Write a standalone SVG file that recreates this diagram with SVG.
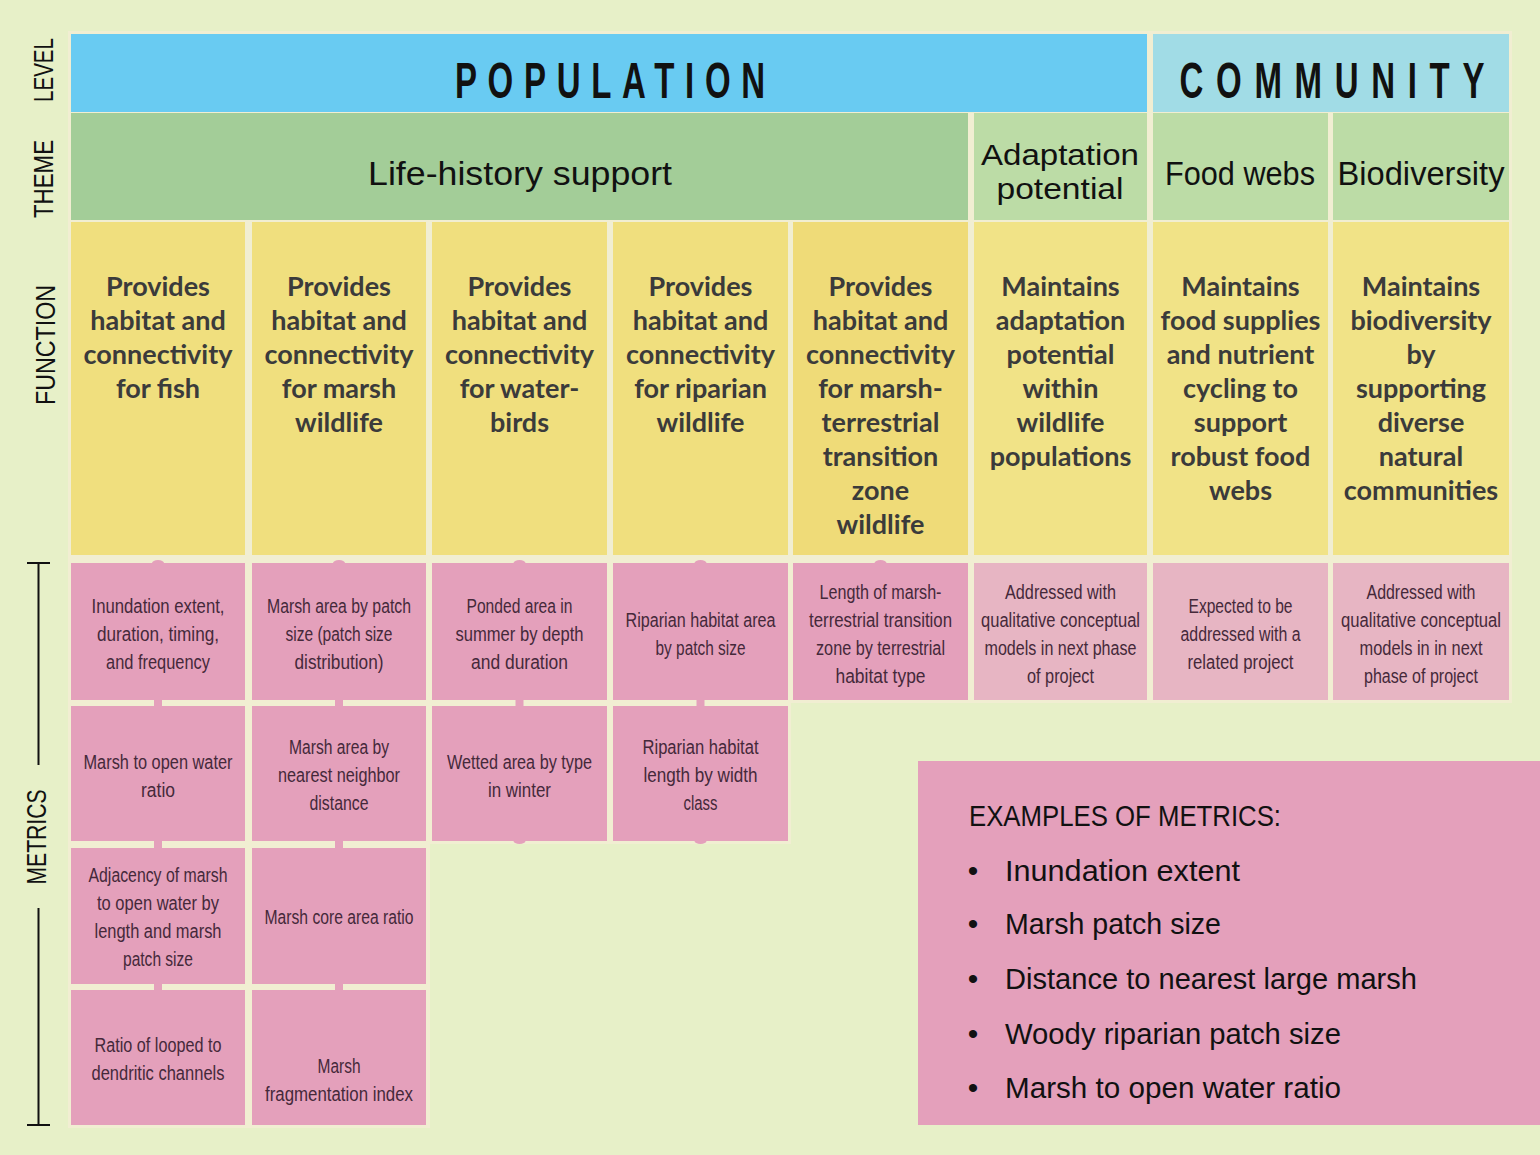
<svg xmlns="http://www.w3.org/2000/svg" width="1540" height="1155" viewBox="0 0 1540 1155">
<style>
.bg{fill:#e7f0c8}
.cream{fill:#f1eed2}
.lvl{fill:#69cbf2}
.lvl2{fill:#a1dce6}
.th1{fill:#a3cd98}
.th2{fill:#bcdca6}
.fn{fill:#f0df7e}
.fn5{fill:#efdb78}
.fn2{fill:#f1e387}
.mt{fill:#e4a0bb}
.mt2{fill:#e7b5c3}
.side{font-family:"Liberation Sans",Arial,sans-serif;font-size:27px;fill:#111;text-anchor:middle}
.big{font-family:"Liberation Sans",Arial,sans-serif;font-weight:bold;font-size:50px;fill:#111;text-anchor:middle}
.theme{font-family:"Liberation Sans",Arial,sans-serif;font-size:33px;fill:#111;text-anchor:middle}
.theme2{font-family:"Liberation Sans",Arial,sans-serif;font-size:29px;fill:#111;text-anchor:middle}
.ft{font-family:Lato,"Open Sans",sans-serif;font-weight:bold;font-size:27px;fill:#3b3b3b;text-anchor:middle}
.mx{font-family:"Liberation Sans",Arial,sans-serif;font-size:20px;fill:#45293a;text-anchor:middle}
.ex{font-family:"Liberation Sans",Arial,sans-serif;font-size:30px;fill:#111}
.tab{fill:#e4a0bb}
</style>
<rect class="bg" x="0" y="0" width="1540" height="1155"/>

<!-- cream underlay -->
<rect class="cream" x="68" y="31" width="1444" height="672"/>
<rect class="cream" x="68" y="700" width="723" height="144"/>
<rect class="cream" x="68" y="841" width="362" height="287"/>

<!-- side labels -->
<g id="side-labels">
<text class="side" transform="translate(53,70) rotate(-90)" textLength="64" lengthAdjust="spacingAndGlyphs">LEVEL</text>
<text class="side" transform="translate(53,179) rotate(-90)" textLength="78" lengthAdjust="spacingAndGlyphs">THEME</text>
<text class="side" transform="translate(55,345) rotate(-90)" textLength="120" lengthAdjust="spacingAndGlyphs">FUNCTION</text>
<text class="side" transform="translate(46,837) rotate(-90)" textLength="95" lengthAdjust="spacingAndGlyphs">METRICS</text>
<path d="M27,563 H50 M38.5,563 V765 M38.5,908 V1125 M27,1125 H50" stroke="#111" stroke-width="2" fill="none"/>
</g>

<!-- level -->
<g id="level-population">
<rect class="lvl" x="71" y="34" width="1076" height="78"/>
<text class="big" transform="translate(610,98) scale(0.66,1)" textLength="470" lengthAdjust="spacing">POPULATION</text>
</g>
<g id="level-community">
<rect class="lvl2" x="1153" y="34" width="356" height="78"/>
<text class="big" transform="translate(1332,98) scale(0.66,1)" textLength="462" lengthAdjust="spacing">COMMUNITY</text>
</g>

<!-- themes -->
<g id="theme-life-history">
<rect class="th1" x="71" y="113" width="897" height="107"/>
<text class="theme" x="520" y="185" textLength="304" lengthAdjust="spacingAndGlyphs">Life-history support</text>
</g>
<g id="theme-adaptation">
<rect class="th2" x="974" y="113" width="173" height="107"/>
<text class="theme2" x="1060" y="165" textLength="158" lengthAdjust="spacingAndGlyphs">Adaptation</text>
<text class="theme2" x="1060" y="199" textLength="127" lengthAdjust="spacingAndGlyphs">potential</text>
</g>
<g id="theme-food-webs">
<rect class="th2" x="1153" y="113" width="175" height="107"/>
<text class="theme" x="1240" y="185" textLength="150" lengthAdjust="spacingAndGlyphs">Food webs</text>
</g>
<g id="theme-biodiversity">
<rect class="th2" x="1333" y="113" width="176" height="107"/>
<text class="theme" x="1421" y="185" textLength="167" lengthAdjust="spacingAndGlyphs">Biodiversity</text>
</g>

<!-- functions -->
<g id="fn-fish">
<rect class="fn" x="71" y="222" width="174" height="333"/>
<text class="ft" x="158" y="296">Provides</text>
<text class="ft" x="158" y="330">habitat and</text>
<text class="ft" x="158" y="364">connectivity</text>
<text class="ft" x="158" y="398">for fish</text>
</g>
<g id="fn-marsh">
<rect class="fn" x="252" y="222" width="174" height="333"/>
<text class="ft" x="339" y="296">Provides</text>
<text class="ft" x="339" y="330">habitat and</text>
<text class="ft" x="339" y="364">connectivity</text>
<text class="ft" x="339" y="398">for marsh</text>
<text class="ft" x="339" y="432">wildlife</text>
</g>
<g id="fn-waterbirds">
<rect class="fn" x="432" y="222" width="175" height="333"/>
<text class="ft" x="519.5" y="296">Provides</text>
<text class="ft" x="519.5" y="330">habitat and</text>
<text class="ft" x="519.5" y="364">connectivity</text>
<text class="ft" x="519.5" y="398">for water-</text>
<text class="ft" x="519.5" y="432">birds</text>
</g>
<g id="fn-riparian">
<rect class="fn" x="613" y="222" width="175" height="333"/>
<text class="ft" x="700.5" y="296">Provides</text>
<text class="ft" x="700.5" y="330">habitat and</text>
<text class="ft" x="700.5" y="364">connectivity</text>
<text class="ft" x="700.5" y="398">for riparian</text>
<text class="ft" x="700.5" y="432">wildlife</text>
</g>
<g id="fn-transition">
<rect class="fn5" x="793" y="222" width="175" height="333"/>
<text class="ft" x="880.5" y="296">Provides</text>
<text class="ft" x="880.5" y="330">habitat and</text>
<text class="ft" x="880.5" y="364">connectivity</text>
<text class="ft" x="880.5" y="398">for marsh-</text>
<text class="ft" x="880.5" y="432">terrestrial</text>
<text class="ft" x="880.5" y="466">transition</text>
<text class="ft" x="880.5" y="500">zone</text>
<text class="ft" x="880.5" y="534">wildlife</text>
</g>
<g id="fn-adaptation">
<rect class="fn2" x="974" y="222" width="173" height="333"/>
<text class="ft" x="1060.5" y="296">Maintains</text>
<text class="ft" x="1060.5" y="330">adaptation</text>
<text class="ft" x="1060.5" y="364">potential</text>
<text class="ft" x="1060.5" y="398">within</text>
<text class="ft" x="1060.5" y="432">wildlife</text>
<text class="ft" x="1060.5" y="466">populations</text>
</g>
<g id="fn-foodwebs">
<rect class="fn2" x="1153" y="222" width="175" height="333"/>
<text class="ft" x="1240.5" y="296">Maintains</text>
<text class="ft" x="1240.5" y="330">food supplies</text>
<text class="ft" x="1240.5" y="364">and nutrient</text>
<text class="ft" x="1240.5" y="398">cycling to</text>
<text class="ft" x="1240.5" y="432">support</text>
<text class="ft" x="1240.5" y="466">robust food</text>
<text class="ft" x="1240.5" y="500">webs</text>
</g>
<g id="fn-biodiversity">
<rect class="fn2" x="1333" y="222" width="176" height="333"/>
<text class="ft" x="1421" y="296">Maintains</text>
<text class="ft" x="1421" y="330">biodiversity</text>
<text class="ft" x="1421" y="364">by</text>
<text class="ft" x="1421" y="398">supporting</text>
<text class="ft" x="1421" y="432">diverse</text>
<text class="ft" x="1421" y="466">natural</text>
<text class="ft" x="1421" y="500">communities</text>
</g>

<!-- connectors (tabs between metric boxes) -->
<g id="connectors">
<ellipse class="tab" cx="158" cy="563" rx="6" ry="3"/>
<ellipse class="tab" cx="339" cy="563" rx="6" ry="3"/>
<ellipse class="tab" cx="519.5" cy="563" rx="6" ry="3"/>
<ellipse class="tab" cx="700.5" cy="563" rx="6" ry="3"/>
<ellipse class="tab" cx="880.5" cy="563" rx="6" ry="3"/>
<rect class="tab" x="154" y="698" width="8" height="10"/>
<rect class="tab" x="335" y="698" width="8" height="10"/>
<rect class="tab" x="515.5" y="698" width="8" height="10"/>
<rect class="tab" x="696.5" y="698" width="8" height="10"/>
<rect class="tab" x="154" y="839" width="8" height="11"/>
<rect class="tab" x="335" y="839" width="8" height="11"/>
<rect class="tab" x="154" y="982" width="8" height="10"/>
<rect class="tab" x="335" y="982" width="8" height="10"/>
<ellipse class="tab" cx="519.5" cy="841" rx="6" ry="3"/>
<ellipse class="tab" cx="700.5" cy="841" rx="6" ry="3"/>
</g>

<!-- metrics row 1 -->
<g id="m-inundation">
<rect class="mt" x="71" y="563" width="174" height="137"/>
<text class="mx" x="158" y="613" textLength="133" lengthAdjust="spacingAndGlyphs">Inundation extent,</text>
<text class="mx" x="158" y="641" textLength="122" lengthAdjust="spacingAndGlyphs">duration, timing,</text>
<text class="mx" x="158" y="669" textLength="104" lengthAdjust="spacingAndGlyphs">and frequency</text>
</g>
<g id="m-marsh-patch">
<rect class="mt" x="252" y="563" width="174" height="137"/>
<text class="mx" x="339" y="613" textLength="144" lengthAdjust="spacingAndGlyphs">Marsh area by patch</text>
<text class="mx" x="339" y="641" textLength="107" lengthAdjust="spacingAndGlyphs">size (patch size</text>
<text class="mx" x="339" y="669" textLength="89" lengthAdjust="spacingAndGlyphs">distribution)</text>
</g>
<g id="m-ponded">
<rect class="mt" x="432" y="563" width="175" height="137"/>
<text class="mx" x="519.5" y="613" textLength="106" lengthAdjust="spacingAndGlyphs">Ponded area in</text>
<text class="mx" x="519.5" y="641" textLength="128" lengthAdjust="spacingAndGlyphs">summer by depth</text>
<text class="mx" x="519.5" y="669" textLength="97" lengthAdjust="spacingAndGlyphs">and duration</text>
</g>
<g id="m-riparian-area">
<rect class="mt" x="613" y="563" width="175" height="137"/>
<text class="mx" x="700.5" y="627" textLength="150" lengthAdjust="spacingAndGlyphs">Riparian habitat area</text>
<text class="mx" x="700.5" y="655" textLength="90" lengthAdjust="spacingAndGlyphs">by patch size</text>
</g>
<g id="m-transition-length">
<rect class="mt" x="793" y="563" width="175" height="137"/>
<text class="mx" x="880.5" y="599" textLength="122" lengthAdjust="spacingAndGlyphs">Length of marsh-</text>
<text class="mx" x="880.5" y="627" textLength="143" lengthAdjust="spacingAndGlyphs">terrestrial transition</text>
<text class="mx" x="880.5" y="655" textLength="129" lengthAdjust="spacingAndGlyphs">zone by terrestrial</text>
<text class="mx" x="880.5" y="683" textLength="90" lengthAdjust="spacingAndGlyphs">habitat type</text>
</g>
<g id="m-adaptation">
<rect class="mt2" x="974" y="563" width="173" height="137"/>
<text class="mx" x="1060.5" y="599" textLength="111" lengthAdjust="spacingAndGlyphs">Addressed with</text>
<text class="mx" x="1060.5" y="627" textLength="159" lengthAdjust="spacingAndGlyphs">qualitative conceptual</text>
<text class="mx" x="1060.5" y="655" textLength="152" lengthAdjust="spacingAndGlyphs">models in next phase</text>
<text class="mx" x="1060.5" y="683" textLength="67" lengthAdjust="spacingAndGlyphs">of project</text>
</g>
<g id="m-foodwebs">
<rect class="mt2" x="1153" y="563" width="175" height="137"/>
<text class="mx" x="1240.5" y="613" textLength="104" lengthAdjust="spacingAndGlyphs">Expected to be</text>
<text class="mx" x="1240.5" y="641" textLength="120" lengthAdjust="spacingAndGlyphs">addressed with a</text>
<text class="mx" x="1240.5" y="669" textLength="106" lengthAdjust="spacingAndGlyphs">related project</text>
</g>
<g id="m-biodiversity">
<rect class="mt2" x="1333" y="563" width="176" height="137"/>
<text class="mx" x="1421" y="599" textLength="109" lengthAdjust="spacingAndGlyphs">Addressed with</text>
<text class="mx" x="1421" y="627" textLength="160" lengthAdjust="spacingAndGlyphs">qualitative conceptual</text>
<text class="mx" x="1421" y="655" textLength="123" lengthAdjust="spacingAndGlyphs">models in in next</text>
<text class="mx" x="1421" y="683" textLength="114" lengthAdjust="spacingAndGlyphs">phase of project</text>
</g>

<!-- metrics row 2 -->
<g id="m-marsh-open-water">
<rect class="mt" x="71" y="706" width="174" height="135"/>
<text class="mx" x="158" y="769" textLength="149" lengthAdjust="spacingAndGlyphs">Marsh to open water</text>
<text class="mx" x="158" y="797" textLength="34" lengthAdjust="spacingAndGlyphs">ratio</text>
</g>
<g id="m-nearest-neighbor">
<rect class="mt" x="252" y="706" width="174" height="135"/>
<text class="mx" x="339" y="754" textLength="100" lengthAdjust="spacingAndGlyphs">Marsh area by</text>
<text class="mx" x="339" y="782" textLength="122" lengthAdjust="spacingAndGlyphs">nearest neighbor</text>
<text class="mx" x="339" y="810" textLength="59" lengthAdjust="spacingAndGlyphs">distance</text>
</g>
<g id="m-wetted">
<rect class="mt" x="432" y="706" width="175" height="135"/>
<text class="mx" x="519.5" y="769" textLength="145" lengthAdjust="spacingAndGlyphs">Wetted area by type</text>
<text class="mx" x="519.5" y="797" textLength="63" lengthAdjust="spacingAndGlyphs">in winter</text>
</g>
<g id="m-riparian-length">
<rect class="mt" x="613" y="706" width="175" height="135"/>
<text class="mx" x="700.5" y="754" textLength="116" lengthAdjust="spacingAndGlyphs">Riparian habitat</text>
<text class="mx" x="700.5" y="782" textLength="114" lengthAdjust="spacingAndGlyphs">length by width</text>
<text class="mx" x="700.5" y="810" textLength="34" lengthAdjust="spacingAndGlyphs">class</text>
</g>

<!-- metrics row 3 -->
<g id="m-adjacency">
<rect class="mt" x="71" y="848" width="174" height="136"/>
<text class="mx" x="158" y="882" textLength="139" lengthAdjust="spacingAndGlyphs">Adjacency of marsh</text>
<text class="mx" x="158" y="910" textLength="122" lengthAdjust="spacingAndGlyphs">to open water by</text>
<text class="mx" x="158" y="938" textLength="127" lengthAdjust="spacingAndGlyphs">length and marsh</text>
<text class="mx" x="158" y="966" textLength="70" lengthAdjust="spacingAndGlyphs">patch size</text>
</g>
<g id="m-core-area">
<rect class="mt" x="252" y="848" width="174" height="136"/>
<text class="mx" x="339" y="924" textLength="149" lengthAdjust="spacingAndGlyphs">Marsh core area ratio</text>
</g>

<!-- metrics row 4 -->
<g id="m-looped">
<rect class="mt" x="71" y="990" width="174" height="135"/>
<text class="mx" x="158" y="1052" textLength="127" lengthAdjust="spacingAndGlyphs">Ratio of looped to</text>
<text class="mx" x="158" y="1080" textLength="133" lengthAdjust="spacingAndGlyphs">dendritic channels</text>
</g>
<g id="m-fragmentation">
<rect class="mt" x="252" y="990" width="174" height="135"/>
<text class="mx" x="339" y="1073" textLength="43" lengthAdjust="spacingAndGlyphs">Marsh</text>
<text class="mx" x="339" y="1101" textLength="148" lengthAdjust="spacingAndGlyphs">fragmentation index</text>
</g>

<!-- examples box -->
<g id="examples">
<rect class="mt" x="918" y="761" width="622" height="364"/>
<text class="ex" x="969" y="826" textLength="312" lengthAdjust="spacingAndGlyphs">EXAMPLES OF METRICS:</text>
<text class="ex" x="973" y="881" text-anchor="middle">•</text>
<text class="ex" x="1005" y="881" textLength="235" lengthAdjust="spacingAndGlyphs">Inundation extent</text>
<text class="ex" x="973" y="934" text-anchor="middle">•</text>
<text class="ex" x="1005" y="934" textLength="216" lengthAdjust="spacingAndGlyphs">Marsh patch size</text>
<text class="ex" x="973" y="989" text-anchor="middle">•</text>
<text class="ex" x="1005" y="989" textLength="412" lengthAdjust="spacingAndGlyphs">Distance to nearest large marsh</text>
<text class="ex" x="973" y="1044" text-anchor="middle">•</text>
<text class="ex" x="1005" y="1044" textLength="336" lengthAdjust="spacingAndGlyphs">Woody riparian patch size</text>
<text class="ex" x="973" y="1098" text-anchor="middle">•</text>
<text class="ex" x="1005" y="1098" textLength="336" lengthAdjust="spacingAndGlyphs">Marsh to open water ratio</text>
</g>
</svg>
